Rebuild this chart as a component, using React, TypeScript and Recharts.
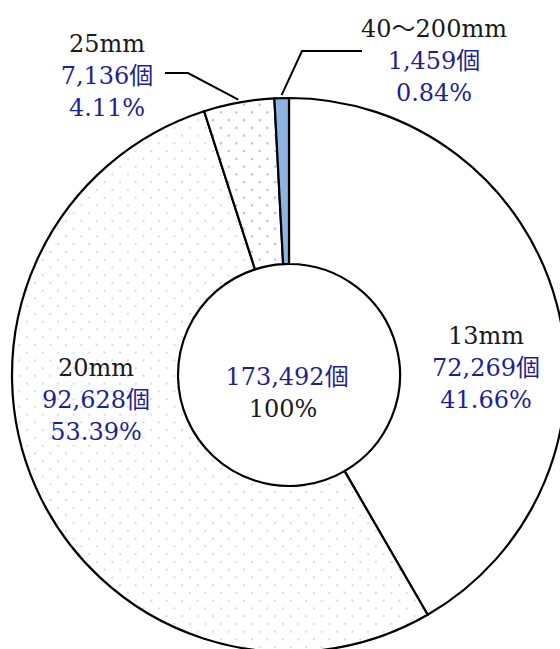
import { Cell, Pie, PieChart } from "recharts";

const categories = ["13mm", "20mm", "25mm", "40～200mm"];
const counts = [72269, 92628, 7136, 1459];

const FILLS = ["#ffffff", "url(#dots20)", "url(#dots25)", "#8db4e2"];
const BLUE = "#1f1f94";
const INK = "#1a1a1a";
const FONT = "'DejaVu Serif', 'Noto Sans CJK JP', serif";

// where each label block sits (centre x, first baseline y) and its leader elbow
const LABEL_POS: Record<string, { x: number; y: number; elbow?: [number, number, number] }> = {
  "13mm": { x: 486, y: 344 },
  "20mm": { x: 96, y: 376 },
  "25mm": { x: 107, y: 52, elbow: [165, 188, 73] },
  "40～200mm": { x: 434, y: 37, elbow: [362, 302, 51] },
};

const total = counts.reduce((s, v) => s + v, 0);
const data = categories.map((name, i) => ({ name, value: counts[i] }));
const fmt = (v: number) => v.toLocaleString("en-US");
const RAD = Math.PI / 180;

function renderLabel(props: any) {
  const { cx, cy, midAngle, outerRadius, index, name, value } = props;
  const pos = LABEL_POS[name];
  const pct = ((value / total) * 100).toFixed(2) + "%";
  const lh = 32;
  let leader = null;
  if (pos.elbow) {
    const [x0, x1, y] = pos.elbow;
    const ex = cx + (outerRadius + 3) * Math.cos(-midAngle * RAD);
    const ey = cy + (outerRadius + 3) * Math.sin(-midAngle * RAD);
    leader = (
      <path d={`M${x0},${y}L${x1},${y}L${ex},${ey}`} stroke="#000" strokeWidth={2} fill="none" />
    );
  }
  return (
    <g key={name}>
      {leader}
      <text x={pos.x} y={pos.y} textAnchor="middle" fill={INK} fontSize={24} fontFamily={FONT}>
        {name}
      </text>
      <text x={pos.x} y={pos.y + lh} textAnchor="middle" fill={BLUE} fontSize={24} fontFamily={FONT}>
        {fmt(value)}個
      </text>
      <text x={pos.x} y={pos.y + lh * 2} textAnchor="middle" fill={BLUE} fontSize={24} fontFamily={FONT}>
        {pct}
      </text>
      {index === 0 && (
        <g>
          <text x={cx - 2} y={cy + 10} textAnchor="middle" fill={BLUE} fontSize={24} fontFamily={FONT}>
            {fmt(total)}個
          </text>
          <text x={cx - 6} y={cy + 42} textAnchor="middle" fill={INK} fontSize={24} fontFamily={FONT}>
            100%
          </text>
        </g>
      )}
    </g>
  );
}

export default function App() {
  return (
    <div style={{ position: "absolute", left: 0, top: 0 }}>
      <PieChart width={560} height={649} margin={{ top: 0, right: 0, bottom: 0, left: 0 }}>
        <defs>
          <pattern id="dots20" width="15.5" height="15.5" patternUnits="userSpaceOnUse">
            <rect width="15.5" height="15.5" fill="#ffffff" />
            <circle cx="3.9" cy="3.9" r="1.1" fill="#c9d7ef" />
            <circle cx="11.65" cy="11.65" r="1.1" fill="#c9d7ef" />
          </pattern>
          <pattern id="dots25" width="15.5" height="15.5" patternUnits="userSpaceOnUse">
            <rect width="15.5" height="15.5" fill="#ffffff" />
            <circle cx="3.9" cy="3.9" r="1.2" fill="#a3c0e8" />
            <circle cx="11.65" cy="11.65" r="1.2" fill="#a3c0e8" />
          </pattern>
        </defs>
        <Pie
          data={data}
          dataKey="value"
          nameKey="name"
          cx={289}
          cy={375}
          innerRadius={111}
          outerRadius={277}
          startAngle={90}
          endAngle={-270}
          stroke="#000"
          strokeWidth={2.2}
          label={renderLabel}
          labelLine={false}
          isAnimationActive={false}
        >
          {data.map((d, i) => (
            <Cell key={d.name} fill={FILLS[i]} />
          ))}
        </Pie>
      </PieChart>
    </div>
  );
}
